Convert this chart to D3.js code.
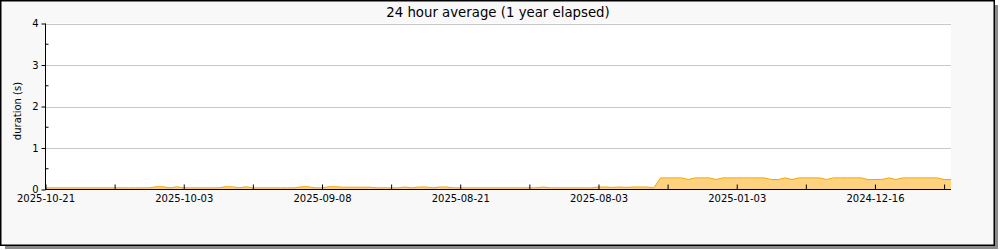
<!DOCTYPE html>
<html>
<head>
<meta charset="utf-8">
<script src="https://cdn.jsdelivr.net/npm/d3@7"></script>
<style>
  body { margin: 0; background: #fff; }
  text { font-family: "DejaVu Sans", sans-serif; fill: #000; }
</style>
</head>
<body>
<svg id="chart"></svg>
<script>
// chart data
const title = '24 hour average (1 year elapsed)';
const yLabel = 'duration (s)';
const tickLabels = ['2025-10-21', '2025-10-03', '2025-09-08', '2025-08-21', '2025-08-03', '2025-01-03', '2024-12-16'];
const labelIndex = [0, 20, 40, 60, 80, 100, 120];
const minorIndex = [10, 30, 50, 70, 90, 110, 130];
const yTicks = [0, 1, 2, 3, 4];
const durations = [
  0.04, 0.04, 0.04, 0.04, 0.04, 0.04, 0.04, 0.04, 0.04, 0.04, 0.04, 0.04, 0.04, 0.04, 0.04, 0.04,
  0.065, 0.065, 0.04, 0.065,
  0.04, 0.04, 0.04, 0.04, 0.04, 0.04,
  0.065, 0.065, 0.04, 0.065,
  0.04, 0.04, 0.04, 0.04, 0.04, 0.04, 0.04,
  0.065, 0.065, 0.04, 0.04, 0.065, 0.065,
  0.055, 0.055, 0.055, 0.055, 0.055,
  0.04, 0.04, 0.04, 0.04,
  0.06, 0.04, 0.06, 0.06, 0.04, 0.06, 0.06,
  0.04, 0.04, 0.04, 0.04, 0.04, 0.04, 0.04, 0.04, 0.04, 0.04, 0.04, 0.04, 0.04,
  0.06,
  0.04, 0.04, 0.04, 0.04, 0.04, 0.04, 0.04,
  0.06, 0.06, 0.05, 0.06, 0.05, 0.06, 0.06, 0.06, 0.04,
  0.28, 0.28, 0.28, 0.28, 0.24, 0.28, 0.28, 0.28, 0.24,
  0.28, 0.28, 0.28, 0.28, 0.28, 0.28, 0.28, 0.24, 0.24, 0.28, 0.24,
  0.28, 0.28, 0.28, 0.28, 0.24, 0.28, 0.28, 0.28, 0.28, 0.28,
  0.24, 0.24, 0.24, 0.28, 0.24, 0.28, 0.28, 0.28, 0.28, 0.28, 0.28, 0.24, 0.24
];

// set up constants
const width = 1000;
const height = 250;
const plot = { left: 45.5, right: 951, top: 23.5, bottom: 189.5 };

const svg = d3.select('#chart')
  .attr('width', width)
  .attr('height', height);

// frame with shadow
svg.append('rect')
  .attr('x', 5).attr('y', 5)
  .attr('width', 993).attr('height', 244)
  .attr('fill', '#8a8a8a');

svg.append('rect')
  .attr('x', 0.75).attr('y', 0.75)
  .attr('width', 993.5).attr('height', 244.5)
  .attr('fill', '#f8f8f8')
  .attr('stroke', '#000')
  .attr('stroke-width', 1.5);

// scales
const xScale = d3.scaleLinear()
  .domain([0, durations.length - 1])
  .range([plot.left, plot.right]);

const yScale = d3.scaleLinear()
  .domain([0, 4])
  .range([plot.bottom, plot.top]);

// plot background
svg.append('rect')
  .attr('x', plot.left)
  .attr('y', plot.top)
  .attr('width', plot.right - plot.left)
  .attr('height', plot.bottom - plot.top)
  .attr('fill', '#fff');

// grid lines
svg.append('g')
  .selectAll('line')
  .data(yTicks.filter(d => d > 0))
  .enter()
  .append('line')
  .attr('x1', plot.left)
  .attr('x2', plot.right)
  .attr('y1', d => Math.round(yScale(d)) + 0.5)
  .attr('y2', d => Math.round(yScale(d)) + 0.5)
  .attr('stroke', '#c8c8c8')
  .attr('stroke-width', 1);

// area
const area = d3.area()
  .x((d, i) => xScale(i))
  .y0(yScale(0))
  .y1(d => yScale(d));

const line = d3.line()
  .x((d, i) => xScale(i))
  .y(d => yScale(d));

svg.append('path')
  .datum(durations)
  .attr('d', area)
  .attr('fill', '#ffd27f');

svg.append('path')
  .datum(durations)
  .attr('d', line)
  .attr('fill', 'none')
  .attr('stroke', '#f7a400')
  .attr('stroke-width', 1);

// y axis
const yAxis = d3.axisLeft(yScale)
  .tickValues(yTicks)
  .tickSize(4)
  .tickPadding(3)
  .tickFormat(d3.format('d'));

const yAxisG = svg.append('g')
  .attr('transform', `translate(${plot.left}, 0)`)
  .call(yAxis);

yAxisG.select('.domain').attr('d', `M0,${plot.top}V${plot.bottom}`);
yAxisG.selectAll('.tick text')
  .style('font-family', '"DejaVu Sans", sans-serif')
  .style('font-size', '10px');

// minor y ticks pointing inward
svg.append('g')
  .selectAll('line')
  .data([0.5, 1.5, 2.5, 3.5])
  .enter()
  .append('line')
  .attr('x1', plot.left)
  .attr('x2', plot.left + 3)
  .attr('y1', d => yScale(d))
  .attr('y2', d => yScale(d))
  .attr('stroke', '#000');

// x axis
const xAxis = d3.axisBottom(xScale)
  .tickValues(labelIndex.concat(minorIndex))
  .tickSizeInner(-5)
  .tickSizeOuter(0)
  .tickPadding(8)
  .tickFormat(d => {
    const k = labelIndex.indexOf(d);
    return k >= 0 ? tickLabels[k] : '';
  });

const xAxisG = svg.append('g')
  .attr('transform', `translate(0, ${plot.bottom})`)
  .call(xAxis);

xAxisG.select('.domain').attr('d', `M${plot.left - 0.5},0H${plot.right}`);
xAxisG.selectAll('.tick text')
  .style('font-family', '"DejaVu Sans", sans-serif')
  .style('font-size', '10px')
  .attr('dy', '0.71em')
  .attr('y', 5);

// title
svg.append('text')
  .attr('x', 498)
  .attr('y', 16.5)
  .attr('text-anchor', 'middle')
  .style('font-size', '13.3px')
  .text(title);

// y label
svg.append('text')
  .attr('transform', 'translate(21, 111) rotate(-90)')
  .attr('text-anchor', 'middle')
  .style('font-size', '10px')
  .text(yLabel);
</script>
</body>
</html>
